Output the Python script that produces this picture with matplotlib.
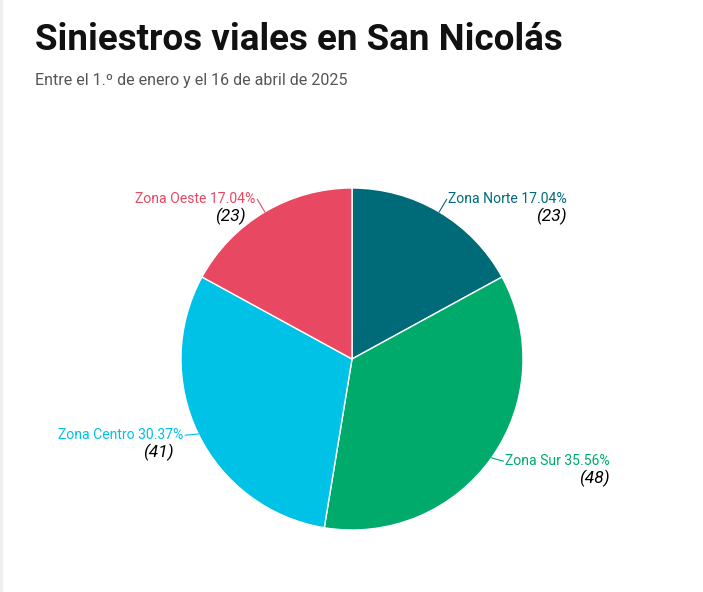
import numpy as np
import matplotlib
matplotlib.use("Agg")
import matplotlib.pyplot as plt
from matplotlib.patches import Rectangle

title = "Siniestros viales en San Nicolás"
subtitle = "Entre el 1.º de enero y el 16 de abril de 2025"
zonas = ["Zona Norte", "Zona Sur", "Zona Centro", "Zona Oeste"]
casos = [23, 48, 41, 23]
porcentajes = ["17.04%", "35.56%", "30.37%", "17.04%"]
colores = ["#006B78", "#00AA6A", "#00C1E6", "#E84862"]

W, H = 703, 592
fig = plt.figure(figsize=(W / 100, H / 100), dpi=100)
fig.patches.append(Rectangle((0, 0), 3 / W, 1, transform=fig.transFigure,
                             facecolor="#efefef", edgecolor="none"))

fig.text(35 / W, 1 - 40 / H, title, fontsize=26.5, fontweight="bold",
         family=["Roboto", "DejaVu Sans"], color="#111111", va="center", ha="left")
fig.text(35 / W, 1 - 81 / H, subtitle, fontsize=11.5, family=["Roboto", "DejaVu Sans"],
         color="#555555", va="center", ha="left")

cx, cy, r = 352, 359, 171
ax = fig.add_axes([(cx - r) / W, (H - cy - r) / H, 2 * r / W, 2 * r / H])
wedges, _ = ax.pie(casos, colors=colores, startangle=90, counterclock=False,
                   radius=1, wedgeprops=dict(edgecolor="white", linewidth=1))
ax.set_xlim(-1, 1)
ax.set_ylim(-1, 1)
ax.set_aspect("equal")
ax.axis("off")

fig.canvas.draw()
for w, z, p, n, c in zip(wedges, zonas, porcentajes, casos, colores):
    th = np.deg2rad((w.theta1 + w.theta2) / 2)
    ex, ey = np.cos(th), np.sin(th)
    lx, ly = 1.085 * ex, 1.085 * ey
    if ey < 0:
        ly += 0.03
    right = ex > 0
    ha = "left" if right else "right"
    ax.plot([ex, lx], [ey, ly], color=c, lw=0.8, clip_on=False)
    t = ax.text(lx + (0.01 if right else -0.01), ly, f"{z} {p}", color=c, fontsize=10.1,
                family=["Roboto", "DejaVu Sans"], ha=ha, va="center")
    fig.canvas.draw()
    bb = t.get_window_extent().transformed(ax.transData.inverted())
    xr = bb.x1 if right else bb.x1 - 0.058
    ax.text(xr, ly - 0.1, f"({n})", color="black", fontsize=12.5, style="italic",
            family=["Roboto", "DejaVu Sans"], ha="right", va="center")

fig.savefig("out.png", dpi=100)
